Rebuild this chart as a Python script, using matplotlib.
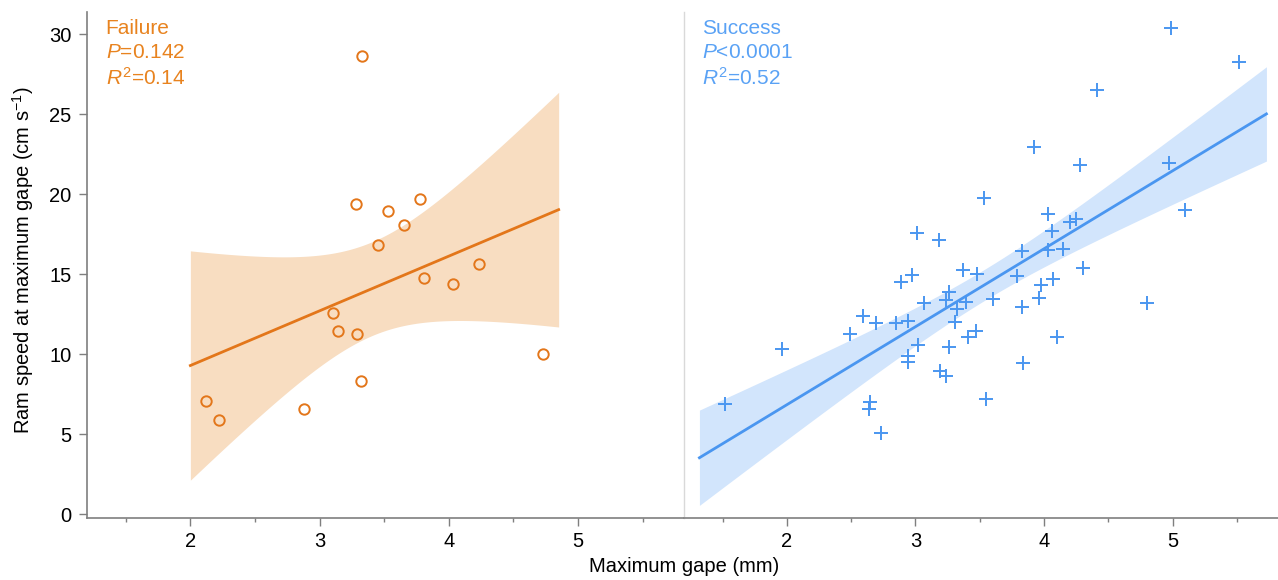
import numpy as np
import matplotlib
matplotlib.use('Agg')
import matplotlib.pyplot as plt

plt.rcParams['font.family'] = ['Liberation Sans', 'DejaVu Sans']
plt.rcParams['mathtext.fontset'] = 'custom'
plt.rcParams['mathtext.rm'] = 'Liberation Sans'
plt.rcParams['mathtext.it'] = 'Liberation Sans:italic'

# Failure strikes: maximum gape (mm), ram speed (cm/s)
fail_gape = [2.12, 2.22, 2.88, 3.10, 3.14, 3.29, 3.32, 3.28, 3.45, 3.53,
             3.65, 3.78, 3.81, 4.03, 4.23, 4.73, 3.33]
fail_speed = [7.07, 5.90, 6.57, 12.6, 11.43, 11.28, 8.30, 19.36, 16.83, 18.98,
              18.10, 19.71, 14.77, 14.39, 15.63, 10.03, 28.66]

# Success strikes
succ_gape = [3.53, 3.01, 3.18,
             4.99, 5.52, 4.41, 3.92, 4.28, 4.97, 5.10, 4.03, 4.20, 4.25, 4.06,
             3.83, 4.03, 4.15,
             1.52, 1.96, 2.49, 2.59, 2.69, 2.85, 2.94, 2.89, 2.97, 2.65, 2.64,
             2.73, 2.94, 2.94, 3.02, 3.07, 3.19, 3.24, 3.26, 3.26, 3.24, 3.31,
             3.32, 3.39, 3.37, 3.48, 3.41, 3.47, 3.55,
             4.30, 3.79, 3.98, 4.07, 3.96, 3.83, 3.60, 4.80, 4.10, 3.84]
succ_speed = [19.75, 17.56, 17.15,
              30.39, 28.27, 26.53, 22.95, 21.86, 21.95, 19.02, 18.75, 18.25, 18.46, 17.73,
              16.42, 16.52, 16.56,
              6.90, 10.33, 11.26, 12.41, 11.95, 11.95, 12.10, 14.54, 14.94, 6.99, 6.59,
              5.07, 9.89, 9.53, 10.59, 13.18, 8.93, 8.64, 10.45, 13.87, 13.39, 12.03,
              12.81, 13.29, 15.27, 15.02, 11.06, 11.45, 7.20,
              15.37, 14.89, 14.33, 14.69, 13.50, 12.97, 13.45, 13.22, 11.10, 9.43]

fail_fit_range = (2.0, 4.85)
succ_fit_range = (1.32, 5.73)
fail_t = 2.131   # t(0.975, df=15)
succ_t = 2.005   # t(0.975, df=54)

fail_label = ['Failure', '$\\mathit{P}$=0.142', '$\\mathit{R}^2$=0.14']
succ_label = ['Success', '$\\mathit{P}$<0.0001', '$\\mathit{R}^2$=0.52']

ORANGE = '#E3761A'
ORANGE_BAND = '#F8DDC1'
ORANGE_TEXT = '#E8831F'
BLUE = '#4A96F0'
BLUE_BAND = '#D2E5FC'
BLUE_TEXT = '#5AA2F5'
GREY = '#7f7f7f'


def fit_ci(x, y, lo, hi, t):
    x = np.asarray(x)
    y = np.asarray(y)
    n = len(x)
    b1, b0 = np.polyfit(x, y, 1)
    resid = y - (b0 + b1 * x)
    s = np.sqrt(np.sum(resid ** 2) / (n - 2))
    sxx = np.sum((x - x.mean()) ** 2)
    xs = np.linspace(lo, hi, 200)
    yh = b0 + b1 * xs
    se = s * np.sqrt(1 / n + (xs - x.mean()) ** 2 / sxx)
    return xs, yh, yh - t * se, yh + t * se


fig = plt.figure(figsize=(12.78, 5.8), dpi=100)
W, H = 1278, 580
bot = 1 - 518 / H
hgt = (518 - 12) / H
ax1 = fig.add_axes([87 / W, bot, (684 - 87) / W, hgt])
ax2 = fig.add_axes([684 / W, bot, (1278 - 684) / W, hgt])

for ax in (ax1, ax2):
    ax.set_xlim(1.2, 5.82)
    ax.set_ylim(-0.25, 31.4)
    ax.spines['top'].set_visible(False)
    ax.spines['right'].set_visible(False)
    ax.spines['bottom'].set_color(GREY)
    ax.spines['bottom'].set_linewidth(1.2)
    ax.set_xticks([2, 3, 4, 5])
    ax.set_xticks([1.5, 2.5, 3.5, 4.5, 5.5], minor=True)
    ax.tick_params(axis='x', which='major', length=6, width=1, color=GREY,
                   labelsize=14.5, pad=4)
    ax.tick_params(axis='x', which='minor', length=3, width=1, color=GREY)

ax1.spines['left'].set_color(GREY)
ax1.spines['left'].set_linewidth(1.2)
ax1.set_yticks([0, 5, 10, 15, 20, 25, 30])
ax1.tick_params(axis='y', length=6, width=1, color=GREY, labelsize=14.5, pad=5)
ax1.set_ylabel('Ram speed at maximum gape (cm s$^{-1}$)', fontsize=14.5)
ax1.yaxis.set_label_coords(-0.086, 0.51)

ax2.spines['left'].set_color('#d9d9d9')
ax2.spines['left'].set_linewidth(1)
ax2.tick_params(axis='y', left=False, labelleft=False)

# Failure panel
xs, yh, lo, hi = fit_ci(fail_gape, fail_speed, *fail_fit_range, fail_t)
ax1.fill_between(xs, lo, hi, color=ORANGE_BAND, lw=0, zorder=1)
ax1.plot(xs, yh, color=ORANGE, lw=2, zorder=2)
ax1.plot(fail_gape, fail_speed, 'o', ms=7.5, mfc='none', mec=ORANGE, mew=1.4,
         zorder=3, clip_on=False)

# Success panel
xs, yh, lo, hi = fit_ci(succ_gape, succ_speed, *succ_fit_range, succ_t)
ax2.fill_between(xs, lo, hi, color=BLUE_BAND, lw=0, zorder=1)
ax2.plot(xs, yh, color=BLUE, lw=2, zorder=2)
ax2.plot(succ_gape, succ_speed, '+', ms=10, mec=BLUE, mew=1.4, zorder=3,
         clip_on=False)

for ax, lines, col in ((ax1, fail_label, ORANGE_TEXT), (ax2, succ_label, BLUE_TEXT)):
    for i, s in enumerate(lines):
        y = 1 - (28.5 + 24.5 * i - 12) / (518 - 12)
        ax.text(0.031, y, s, transform=ax.transAxes, color=col, fontsize=15,
                ha='left', va='center')

fig.text(684 / W, 1 - 567 / H, 'Maximum gape (mm)', ha='center', va='center',
         fontsize=14.5)

fig.savefig('out.png', dpi=100)
